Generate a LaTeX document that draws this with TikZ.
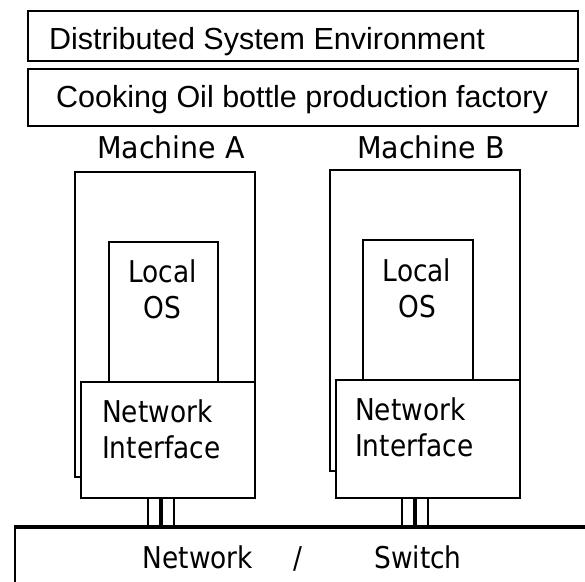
\documentclass[tikz,border=0pt]{standalone}
\usepackage{fontspec}
\setmainfont{Liberation Sans}
\newfontfamily\tahfont[FakeStretch=0.88]{DejaVu Sans}
\newfontfamily\machfont[FakeStretch=0.95]{DejaVu Sans}
\usepackage{tikz}
\usetikzlibrary{calc,positioning}

\tikzset{
    box/.style={draw, line width=1.5pt, fill=white, inner sep=0pt, anchor=north west},
    tah/.style={font=\tahfont\fontsize{30}{36}\selectfont, inner sep=0pt, align=center},
    mach/.style={font=\machfont\fontsize{30}{36}\selectfont, inner sep=0pt},
    ari/.style={font=\fontsize{30.5}{36}\selectfont, inner sep=0pt},
    wire/.style={line width=1.5pt},
    fatwire/.style={line width=4.5pt}
}

\begin{document}
\begin{tikzpicture}[x=1pt, y=-1pt]

    \useasboundingbox (0,0) rectangle (585,581);

    % Top boxes
    \node[box, minimum width=550pt, minimum height=50pt] (env) at (27,10) {};
    \node[ari, anchor=base west] (envtxt) at (49,49) {Distributed System Environment};
    \node[box, minimum width=550pt, minimum height=57pt] (fac) at (27,68) {};
    \node[ari, anchor=base] (factxt) at (302,107) {Cooking Oil bottle production factory};

    % Machine A
    \node[mach, anchor=base] (machatxt) at (171,158) {Machine A};
    \node[box, minimum width=180pt, minimum height=305pt] (macha) at (74,171) {};
    \node[box, minimum width=109pt, minimum height=140pt] (osa) at (108,241) {};
    \node[tah, anchor=base] (osatxt) at (162.5,318) {Local\\OS};
    \node[box, minimum width=174pt, minimum height=116pt] (nia) at (80,381) {};
    \node[tah, anchor=base west, align=left] (niatxt) at (102,458) {Network\\Interface};

    % Machine B
    \node[mach, anchor=base] (machbtxt) at (431,158) {Machine B};
    \node[box, minimum width=190pt, minimum height=301pt] (machb) at (329,169) {};
    \node[box, minimum width=110pt, minimum height=140pt] (osb) at (362,239) {};
    \node[tah, anchor=base] (osbtxt) at (417,317) {Local\\OS};
    \node[box, minimum width=184pt, minimum height=118pt] (nib) at (335,379) {};
    \node[tah, anchor=base west, align=left] (nibtxt) at (355,456) {Network\\Interface};

    % Network / Switch
    \node[box, minimum width=600pt, minimum height=80pt] (net) at (14,527) {};
    \draw[fatwire] (net.north west) -- (net.north east);
    \node[tah, anchor=base] (nettxt) at (198,568) {Network};
    \node[tah, anchor=base] (slash) at (298,568) {/};
    \node[tah, anchor=base] (swtxt) at (418,568) {Switch};

    % Links
    \coordinate (lnka) at (161,497);
    \coordinate (lnkb) at (415,497);
    \foreach \l in {lnka,lnkb} {
        \draw[fatwire] (\l) -- (\l |- net.north);
        \draw[wire] ([xshift=-13pt]\l) -- ([xshift=-13pt]\l |- net.north);
        \draw[wire] ([xshift=13pt]\l) -- ([xshift=13pt]\l |- net.north);
    }

\end{tikzpicture}
\end{document}
